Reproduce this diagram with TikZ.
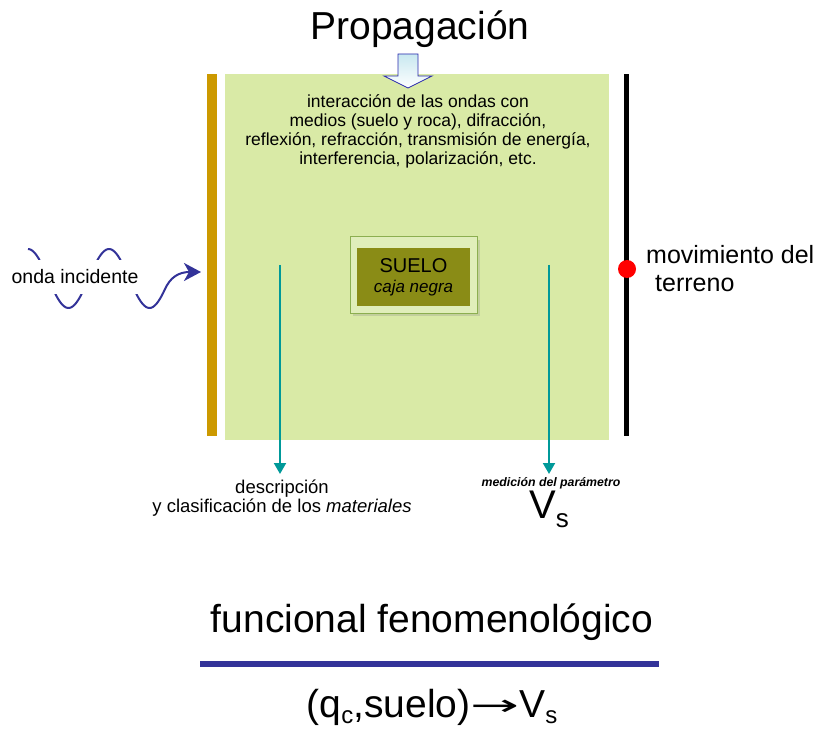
\documentclass[tikz,border=0pt]{standalone}
\usepackage{fontspec}
\usepackage{graphicx}
\setmainfont{Liberation Sans}
\newfontfamily\dejavu{DejaVu Sans}
\usetikzlibrary{arrows.meta,shadows}
\definecolor{boxgreen}{RGB}{217,234,166}
\definecolor{barorange}{RGB}{204,153,0}
\definecolor{soilolive}{RGB}{138,140,22}
\definecolor{soillight}{RGB}{224,238,186}
\definecolor{soilborder}{RGB}{140,175,80}
\definecolor{tealline}{RGB}{0,153,153}
\definecolor{waveblue}{RGB}{51,51,153}
\definecolor{arrowfill}{RGB}{200,232,240}
\newcommand\fsz[2]{\fontsize{#1}{#2}\selectfont}
\begin{document}
\begin{tikzpicture}[x=1pt,y=-1pt,
  tealarrow/.style={draw=tealline, line width=2pt, -{Triangle[width=12pt,length=11pt]}},
  plaintext/.style={inner sep=0pt, align=center, text=black}]
\useasboundingbox (0,0) rectangle (825,730);
\fill[white] (0,0) rectangle (825,730);

% bars
\node[fill=barorange, minimum width=10pt, minimum height=362pt, inner sep=0, anchor=north west] (leftbar) at (207,74) {};
\node[fill=black, minimum width=5pt, minimum height=362pt, inner sep=0, anchor=north west] (rightbar) at (624,74) {};

% main box
\node[fill=boxgreen, minimum width=384pt, minimum height=366pt, inner sep=0, anchor=north west] (box) at (225,74) {};

% title and top arrow
\node[plaintext, font=\fsz{39}{44}] (title) at (420,29) {Propagación};
\draw[draw=waveblue!80!blue, line width=0.8pt, top color=arrowfill, bottom color=white]
  (398,54) -- (418,54) -- (418,76) -- (432,76) -- (408,88) -- (384,76) -- (398,76) -- cycle;

% box text
\node[plaintext, font=\fsz{17.5}{19}] (inter) at (418,131)
 {interacción de las ondas con\\ medios (suelo y roca), difracción,\\ reflexión, refracción, transmisión de energía,\\ interferencia, polarización, etc.};

% suelo
\node[fill=soillight, draw=soilborder, line width=1pt, minimum width=127pt, minimum height=76pt, inner sep=0, drop shadow={opacity=0.25}] (frame) at (413.5,275) {};
\node[fill=soilolive, minimum width=113pt, minimum height=58pt, inner sep=0, align=center, font=\fsz{20}{22}] (suelo) at (413.5,277)
 {SUELO\\[-2pt]{\fsz{17}{19}\itshape caja negra}};

% teal arrows
\coordinate (d1) at (280,265);
\coordinate (d2) at (280,474);
\coordinate (m1) at (549,265);
\coordinate (m2) at (549,474);
\draw[tealarrow] (d1) -- (d2);
\draw[tealarrow] (m1) -- (m2);

\node[plaintext, font=\fsz{18.5}{19.5}] (desc) at (282,498)
 {descripción\\ y clasificación de los \textit{materiales}};
\node[plaintext, font=\fsz{12.3}{13}\bfseries\itshape] (medic) at (551,483) {medición del parámetro};
\node[plaintext, font=\fsz{40}{44}, anchor=center] (vs) at (549,509)
 {V\raisebox{-9pt}{\fsz{26}{26}s}};

% right side
\node[circle, fill=red, minimum size=18pt, inner sep=0] (dot) at (627,269) {};
\node[plaintext, align=left, anchor=west, font=\fsz{25}{28}] (mov) at (646,269)
 {movimiento del\\\hspace*{9pt}terreno};

% incident wave
\coordinate (wtip) at (201,272);
\draw[waveblue, line width=2pt, -{Stealth[length=17pt,width=18pt,inset=5pt]}]
  plot[domain=28:165, samples=80, smooth] (\x, {278.5 - 29.5*cos(4.4444*(\x-28))})
  .. controls (170,278) and (178,272) .. (wtip);
\node[fill=white, inner xsep=2pt, inner ysep=0pt, minimum height=34pt, font=\fsz{19.5}{21}] (onda) at (75,277) {onda incidente};

% bottom
\node[plaintext, font=\fsz{39}{44}] (func) at (432,622) {funcional fenomenológico};
\coordinate (l1) at (200,664);
\coordinate (l2) at (659,664);
\draw[waveblue, line width=6pt] (l1) -- (l2);
\node[plaintext, font=\fsz{39}{44}] (formula) at (432,707)
 {(q\raisebox{-6pt}{\fsz{24}{24}c},suelo){\dejavu\raisebox{2pt}{\scalebox{1.5}[0.75]{→}}}V\raisebox{-6pt}{\fsz{24}{24}s}};
\end{tikzpicture}
\end{document}
